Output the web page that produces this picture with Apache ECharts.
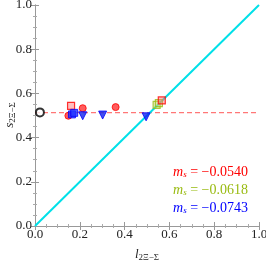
<!DOCTYPE html>
<html><head><meta charset="utf-8">
<script src="https://cdn.jsdelivr.net/npm/echarts@6/dist/echarts.min.js"></script>
<style>html,body{margin:0;padding:0;background:#fff}#c{width:266px;height:261px}</style>
</head><body><div id="c"></div>
<script>
// Data
const refPoint = [[0.022, 0.514]];
const refLineY = 0.513;
const diagonal = [[0, 0], [1, 1]];
const redCircles = [[0.149, 0.499], [0.213, 0.533], [0.360, 0.538]];
const redSquares = [[0.161, 0.544], [0.566, 0.568]];
const greenSquares = [[0.543, 0.548], [0.553, 0.556]];
const blueSquares = [[0.165, 0.505], [0.175, 0.512]];
const blueTriangles = [[0.213, 0.499], [0.302, 0.502], [0.496, 0.494]];
const legendLabels = ['−0.0540', '−0.0618', '−0.0743'];
const legendColors = ['#ff0000', '#99bb11', '#0000ff'];

const serif = 'Liberation Serif';
const chart = echarts.init(document.getElementById('c'));
const axisCommon = {
  type: 'value', min: 0, max: 1, interval: 0.2,
  axisLine: { lineStyle: { color: '#999', width: 1 } },
  axisTick: { inside: true, length: 4, lineStyle: { color: '#999' } },
  minorTick: { show: true, splitNumber: 4, length: 2, lineStyle: { color: '#aaa' } },
  splitLine: { show: false }
};
const fmt = v => v.toFixed(1);
const nameRich = (fill) => ({
  i: { fontFamily: serif, fontStyle: 'italic', fontSize: 13, fill: fill, color: fill },
  s: { fontFamily: serif, fontSize: 9, fill: fill, color: fill, padding: [6, 0, 0, 0] }
});
chart.setOption({
  animation: false,
  grid: { left: 35, right: 7, top: 5, bottom: 35, containLabel: false, outerBoundsMode: 'none' },
  xAxis: [
    Object.assign({}, axisCommon, {
      position: 'bottom',
      axisLabel: { formatter: fmt, fontFamily: serif, fontSize: 13, color: '#222', margin: 2 },
      name: '{i|l}{s|2Ξ−Σ}', nameLocation: 'middle', nameGap: 21,
      nameTextStyle: { rich: nameRich('#222') }
    }),
    Object.assign({}, axisCommon, { position: 'top', axisLabel: { show: false } })
  ],
  yAxis: [
    Object.assign({}, axisCommon, {
      position: 'left',
      axisLabel: { formatter: fmt, fontFamily: serif, fontSize: 13, color: '#222', margin: 3 }
    }),
    Object.assign({}, axisCommon, { position: 'right', axisLabel: { show: false } })
  ],
  series: [
    { type: 'line', data: diagonal, symbol: 'none', lineStyle: { color: '#00e0e8', width: 2 }, z: 2 },
    { type: 'line', data: [[0, refLineY], [1, refLineY]], symbol: 'none',
      lineStyle: { color: '#ff7777', width: 1.2, type: [5, 3] }, z: 1 },
    { type: 'scatter', data: refPoint, symbol: 'circle', symbolSize: 8,
      itemStyle: { color: '#fff', borderColor: '#000', borderWidth: 2 }, z: 5 },
    { type: 'scatter', data: redCircles, symbol: 'circle', symbolSize: 7,
      itemStyle: { color: '#ff3333', borderColor: '#ff0000', borderWidth: 1 }, z: 4 },
    { type: 'scatter', data: redSquares, symbol: 'rect', symbolSize: 7,
      itemStyle: { color: 'rgba(255,120,120,0.6)', borderColor: '#ff0000', borderWidth: 1.2 }, z: 4 },
    { type: 'scatter', data: greenSquares, symbol: 'rect', symbolSize: 7,
      itemStyle: { color: 'rgba(200,220,120,0.5)', borderColor: '#99bb11', borderWidth: 1.2 }, z: 3 },
    { type: 'scatter', data: blueSquares, symbol: 'rect', symbolSize: 7,
      itemStyle: { color: '#2233ff', borderColor: '#0000ff', borderWidth: 1 }, z: 4 },
    { type: 'scatter', data: blueTriangles, symbol: 'triangle', symbolRotate: 180, symbolSize: 8,
      itemStyle: { color: '#1122ee', borderColor: '#0000ff', borderWidth: 1 }, z: 4 }
  ],
  graphic: legendLabels.map((lab, i) => ({
    type: 'text', right: 18, top: 165 + i * 18,
    style: {
      text: '{m|m}{s|s}{t| = ' + lab + '}',
      rich: {
        m: { fontFamily: serif, fontStyle: 'italic', fontSize: 14, fill: legendColors[i] },
        s: { fontFamily: serif, fontStyle: 'italic', fontSize: 9, fill: legendColors[i], padding: [5, 0, 0, 0] },
        t: { fontFamily: serif, fontSize: 14, fill: legendColors[i] }
      }
    }
  })).concat([{
    type: 'text', x: 10, y: 115, rotation: Math.PI / 2,
    style: { text: '{i|s}{s|2Ξ−Σ}', align: 'center', verticalAlign: 'middle', rich: nameRich('#222') }
  }])
});
</script></body></html>
